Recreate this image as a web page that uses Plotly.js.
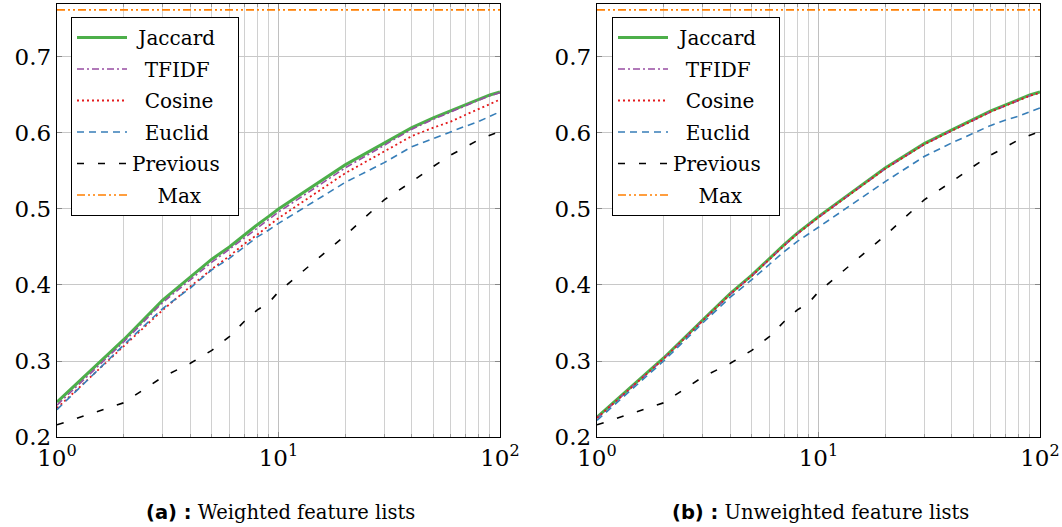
<!DOCTYPE html>
<html>
<head>
<meta charset="utf-8">
<script src="https://cdn.plot.ly/plotly-3.0.1.min.js"></script>
<style>html,body{margin:0;padding:0;background:#fff;}#chart{width:1062px;height:527px;}</style>
</head>
<body>
<div id="chart"></div>
<script>
// x values (number of candidates, log scale)
const xs = [1,2,3,4,5,6,7,8,9,10,20,30,40,50,60,70,80,90,100];

// (a) Weighted feature lists
const jaccardA  = [0.246,0.328,0.380,0.411,0.434,0.450,0.466,0.479,0.490,0.500,0.558,0.587,0.607,0.620,0.629,0.637,0.644,0.650,0.654];
const tfidfA    = [0.242,0.325,0.377,0.407,0.430,0.447,0.462,0.475,0.486,0.496,0.554,0.584,0.605,0.618,0.628,0.636,0.643,0.649,0.653];
const cosineA   = [0.238,0.319,0.367,0.398,0.421,0.438,0.454,0.466,0.477,0.488,0.547,0.576,0.596,0.607,0.615,0.624,0.631,0.638,0.644];
const euclidA   = [0.236,0.321,0.369,0.396,0.420,0.435,0.450,0.463,0.472,0.481,0.535,0.561,0.582,0.593,0.601,0.609,0.615,0.622,0.628];
const previousA = [0.216,0.245,0.279,0.297,0.314,0.332,0.352,0.367,0.376,0.391,0.465,0.512,0.536,0.556,0.571,0.582,0.591,0.597,0.602];

// (b) Unweighted feature lists
const jaccardB  = [0.226,0.304,0.354,0.389,0.413,0.435,0.453,0.468,0.480,0.490,0.554,0.586,0.604,0.618,0.629,0.637,0.644,0.650,0.654];
const tfidfB    = [0.225,0.303,0.353,0.388,0.412,0.434,0.452,0.467,0.479,0.489,0.553,0.585,0.603,0.617,0.628,0.636,0.643,0.649,0.653];
const cosineB   = [0.225,0.303,0.353,0.388,0.412,0.434,0.452,0.467,0.479,0.489,0.553,0.585,0.603,0.617,0.628,0.636,0.643,0.649,0.653];
const euclidB   = [0.222,0.300,0.350,0.384,0.407,0.427,0.444,0.457,0.467,0.476,0.536,0.569,0.587,0.600,0.610,0.617,0.622,0.628,0.633];
const previousB = [0.216,0.245,0.279,0.297,0.314,0.332,0.352,0.367,0.376,0.391,0.465,0.512,0.536,0.556,0.571,0.582,0.591,0.597,0.602];

const maxValue = 0.762;
const maxX = [1,100];

const seriesNames = ["Jaccard","TFIDF","Cosine","Euclid","Previous","Max"];
const yTicks = [0.2,0.3,0.4,0.5,0.6,0.7];
const xMajorTicks = [1,10,100];
const xMajorText = ["10<sup>0</sup>","10<sup>1</sup>","10<sup>2</sup>"];
const xMinorTicks = [2,3,4,5,6,7,8,9,20,30,40,50,60,70,80,90];
const captions = ["(a)","(b)"];
const captionTexts = ["Weighted feature lists","Unweighted feature lists"];

// leading spaces used only to centre the legend labels
const namePad = [1,2,2,2,0,4];
function legendName(i){ return "\u00a0".repeat(namePad[i]) + seriesNames[i] + "\u00a0\u00a0"; }

const styles = [
  {color:"#4daf4a", width:3, dash:"solid"},
  {color:"#984ea3", width:1.6, dash:"7px,3px,2px,3px"},
  {color:"#e41a1c", width:1.8, dash:"2px,3px"},
  {color:"#377eb8", width:1.6, dash:"7px,5px"},
  {color:"#000000", width:1.6, dash:"7px,14px"},
  {color:"#ff7f00", width:1.6, dash:"8px,3px,2px,3px,2px,3px"}
];

function makeTraces(data, xa, ya, legend) {
  const out = [];
  data.forEach((ys, i) => {
    out.push({x: xs, y: ys, xaxis: xa, yaxis: ya, type:"scatter", mode:"lines",
      name: legendName(i), legendgroup: legend + i, line: styles[i], legend: legend, showlegend: true});
  });
  out.push({x: maxX, y: [maxValue, maxValue], xaxis: xa, yaxis: ya, type:"scatter", mode:"lines",
    name: legendName(5), legendgroup: legend + 5, line: styles[5], legend: legend, showlegend: true});
  return out;
}

const traces = [
  ...makeTraces([jaccardA,tfidfA,cosineA,euclidA,previousA], "x", "y", "legend"),
  ...makeTraces([jaccardB,tfidfB,cosineB,euclidB,previousB], "x2", "y2", "legend2")
];

const serif = '"DejaVu Serif", serif';
const W = 1062, H = 527;
const yTop = 1 - 4/H, yBot = 1 - 437/H;

function xAxis(domain, anchor) {
  return {
    type:"log", range:[0,2], domain: domain, anchor: anchor,
    tickmode:"array", tickvals: xMajorTicks, ticktext: xMajorText, tickangle:0,
    showgrid:true, gridcolor:"#c0c0c0", gridwidth:1,
    ticks:"inside", ticklen:5, tickcolor:"#888", mirror:"ticks",
    minor:{tickmode:"array", tickvals: xMinorTicks, showgrid:true, gridcolor:"#d0d0d0", gridwidth:1,
           ticks:"inside", ticklen:3, tickcolor:"#999"},
    showline:true, linecolor:"#000", linewidth:1.2,
    tickfont:{family:serif, size:23, color:"#000"}, zeroline:false
  };
}
function yAxis(anchor) {
  return {
    range:[0.2,0.7697], domain:[yBot,yTop], anchor: anchor,
    tickmode:"array", tickvals: yTicks, ticktext: yTicks.map(v=>v.toFixed(1)),
    showgrid:true, gridcolor:"#c8c8c8", gridwidth:1,
    ticks:"inside", ticklen:5, tickcolor:"#888", mirror:"ticks",
    showline:true, linecolor:"#000", linewidth:1.2,
    tickfont:{family:serif, size:23, color:"#000"}, zeroline:false
  };
}
function legendBox(xpx) {
  return {
    x: xpx/W, y: 1-17/H, xanchor:"left", yanchor:"top",
    bgcolor:"#fff", bordercolor:"#000", borderwidth:1,
    font:{family:serif, size:20, color:"#000"},
    traceorder:"grouped", tracegroupgap:2.5, itemwidth:50
  };
}

const layout = {
  width: W, height: H,
  margin:{l:0,r:0,t:0,b:0},
  font:{family:serif, size:20, color:"#000"},
  paper_bgcolor:"#fff", plot_bgcolor:"#fff",
  xaxis: xAxis([57/W, 500/W], "y"),
  yaxis: yAxis("x"),
  xaxis2: xAxis([597/W, 1040/W], "y2"),
  yaxis2: yAxis("x2"),
  legend: legendBox(71),
  legend2: legendBox(612),
  annotations: [0,1].map(i => ({
    xref:"paper", yref:"paper", x: i===0 ? 280/W : 820/W, y: 1-512/H,
    xanchor:"center", yanchor:"middle", showarrow:false,
    text: '<b style="font-family:\'DejaVu Sans\', sans-serif">' + captions[i] + ' :</b> ' + captionTexts[i],
    font:{family:serif, size:19.5, color:"#000"}
  }))
};

Plotly.newPlot("chart", traces, layout, {staticPlot:true, displayModeBar:false});
</script>
</body>
</html>
